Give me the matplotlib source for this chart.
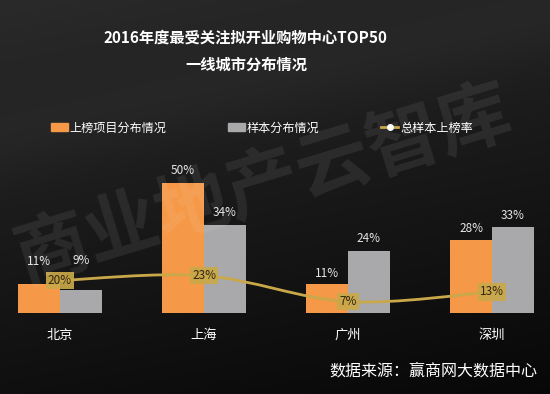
import matplotlib
matplotlib.use("Agg")
import matplotlib.pyplot as plt
from matplotlib.path import Path
from matplotlib.patches import PathPatch, Patch
from matplotlib.lines import Line2D
import numpy as np

plt.rcParams['font.family'] = ['Noto Sans CJK SC', 'DejaVu Sans']

# ----- DATA -----
cities = ["北京", "上海", "广州", "深圳"]
listed_share = [11, 50, 11, 28]      # 上榜项目分布情况 (%)
sample_share = [9, 34, 24, 33]       # 样本分布情况 (%)
listed_rate = [20, 23, 7, 13]        # 总样本上榜率 (%)

title_1 = "2016年度最受关注拟开业购物中心TOP50"
title_2 = "一线城市分布情况"
legend_labels = ["上榜项目分布情况", "样本分布情况", "总样本上榜率"]
source_text = "数据来源：赢商网大数据中心"
watermark = "商业地产云智库"

# ----- STYLE -----
ORANGE = "#f59847"
GREY = "#a9a9ab"
GOLD = "#c9a84a"
W, H = 550, 394

fig = plt.figure(figsize=(W / 100, H / 100), dpi=100)

# background gradient
bg = fig.add_axes([0, 0, 1, 1], zorder=-10)
yy, xx = np.mgrid[0:1:200j, 0:1:280j]
shade = 0.165 - 0.105 * yy - 0.03 * xx + 0.02 * np.exp(-((yy - 0.35 + 0.3 * xx) ** 2) / 0.01)
bg.imshow(np.dstack([shade] * 3).clip(0, 1), aspect="auto", extent=[0, 1, 0, 1], origin="upper")
bg.axis("off")

# watermark
fig.text(0.48, 0.53, watermark, fontsize=53, fontweight="bold", color="white", alpha=0.08,
         rotation=17, ha="center", va="center")

# main axes: baseline at 313 px, top at 100 px
base = (H - 313) / H
top = (H - 100) / H
ax = fig.add_axes([0, base, 1, top - base])
ax.set_xlim(-60 / 144, 490 / 144)
ax.set_ylim(0, (313 - 100) / 2.6)
ax.axis("off")

x = np.arange(len(cities))
bw = 0.29
ax.bar(x - bw / 2, listed_share, bw, color=ORANGE, zorder=2)
ax.bar(x + bw / 2, sample_share, bw, color=GREY, zorder=2)

# bar value labels (Beijing pair lifted to clear the line label)
lift = [[23, 29], [12, 12], [11, 12], [12, 12]]
for i in range(len(cities)):
    for j, (vals, xs) in enumerate([(listed_share, x - bw / 2), (sample_share, x + bw / 2)]):
        ax.annotate(f"{vals[i]}%", (xs[i], vals[i]), xytext=(0, lift[i][j]),
                    textcoords="offset pixels", ha="center", va="center",
                    fontsize=8.5, color="#e6e6e6", zorder=5)

# category labels
for i, c in enumerate(cities):
    ax.annotate(c, (x[i], 0), xytext=(0, -22), textcoords="offset pixels",
                ha="center", va="center", fontsize=9.5, color="white",
                annotation_clip=False)

# rate line on secondary scale (smoothed through the data points)
ax2 = ax.twinx()
ax2.set_ylim(0, (313 - 100) / 1.625)
ax2.axis("off")
pts = np.column_stack([x, listed_rate]).astype(float)
ext = np.vstack([pts[0], pts, pts[-1]])
verts = [tuple(pts[0])]
codes = [Path.MOVETO]
for k in range(len(pts) - 1):
    p0, p1, p2, p3 = ext[k], ext[k + 1], ext[k + 2], ext[k + 3]
    verts += [tuple(p1 + (p2 - p0) / 6), tuple(p2 - (p3 - p1) / 6), tuple(p2)]
    codes += [Path.CURVE4] * 3
ax2.add_patch(PathPatch(Path(verts, codes), facecolor="none", edgecolor=GOLD, lw=2, zorder=3))

for i, v in enumerate(listed_rate):
    ax2.text(x[i], v, f"{v}%", ha="center", va="center", fontsize=8.5, color="#33260e",
             zorder=6, bbox=dict(boxstyle="square,pad=0.2", fc=GOLD, ec="none", alpha=0.92))

# titles
fig.text(245 / W, 1 - 38 / H, title_1, ha="center", va="center", fontsize=11,
         fontweight="bold", color="white")
fig.text(246 / W, 1 - 65 / H, title_2, ha="center", va="center", fontsize=11,
         fontweight="bold", color="white")

# legend
handles = [Patch(color=ORANGE), Patch(color=GREY),
           Line2D([], [], color=GOLD, lw=2, marker="o", markersize=4,
                  markerfacecolor="white", markeredgecolor="white")]
fig.legend(handles, legend_labels, loc="center left", bbox_to_anchor=(40 / W, 1 - 128 / H),
           ncol=3, frameon=False, fontsize=8.7, labelcolor="white", handlelength=1.4,
           handleheight=0.6, handletextpad=0.15, columnspacing=5.1)

# source
fig.text(537 / W, 1 - 371 / H, source_text, ha="right", va="center", fontsize=11.5, color="white")

fig.savefig("out.png", dpi=100)
